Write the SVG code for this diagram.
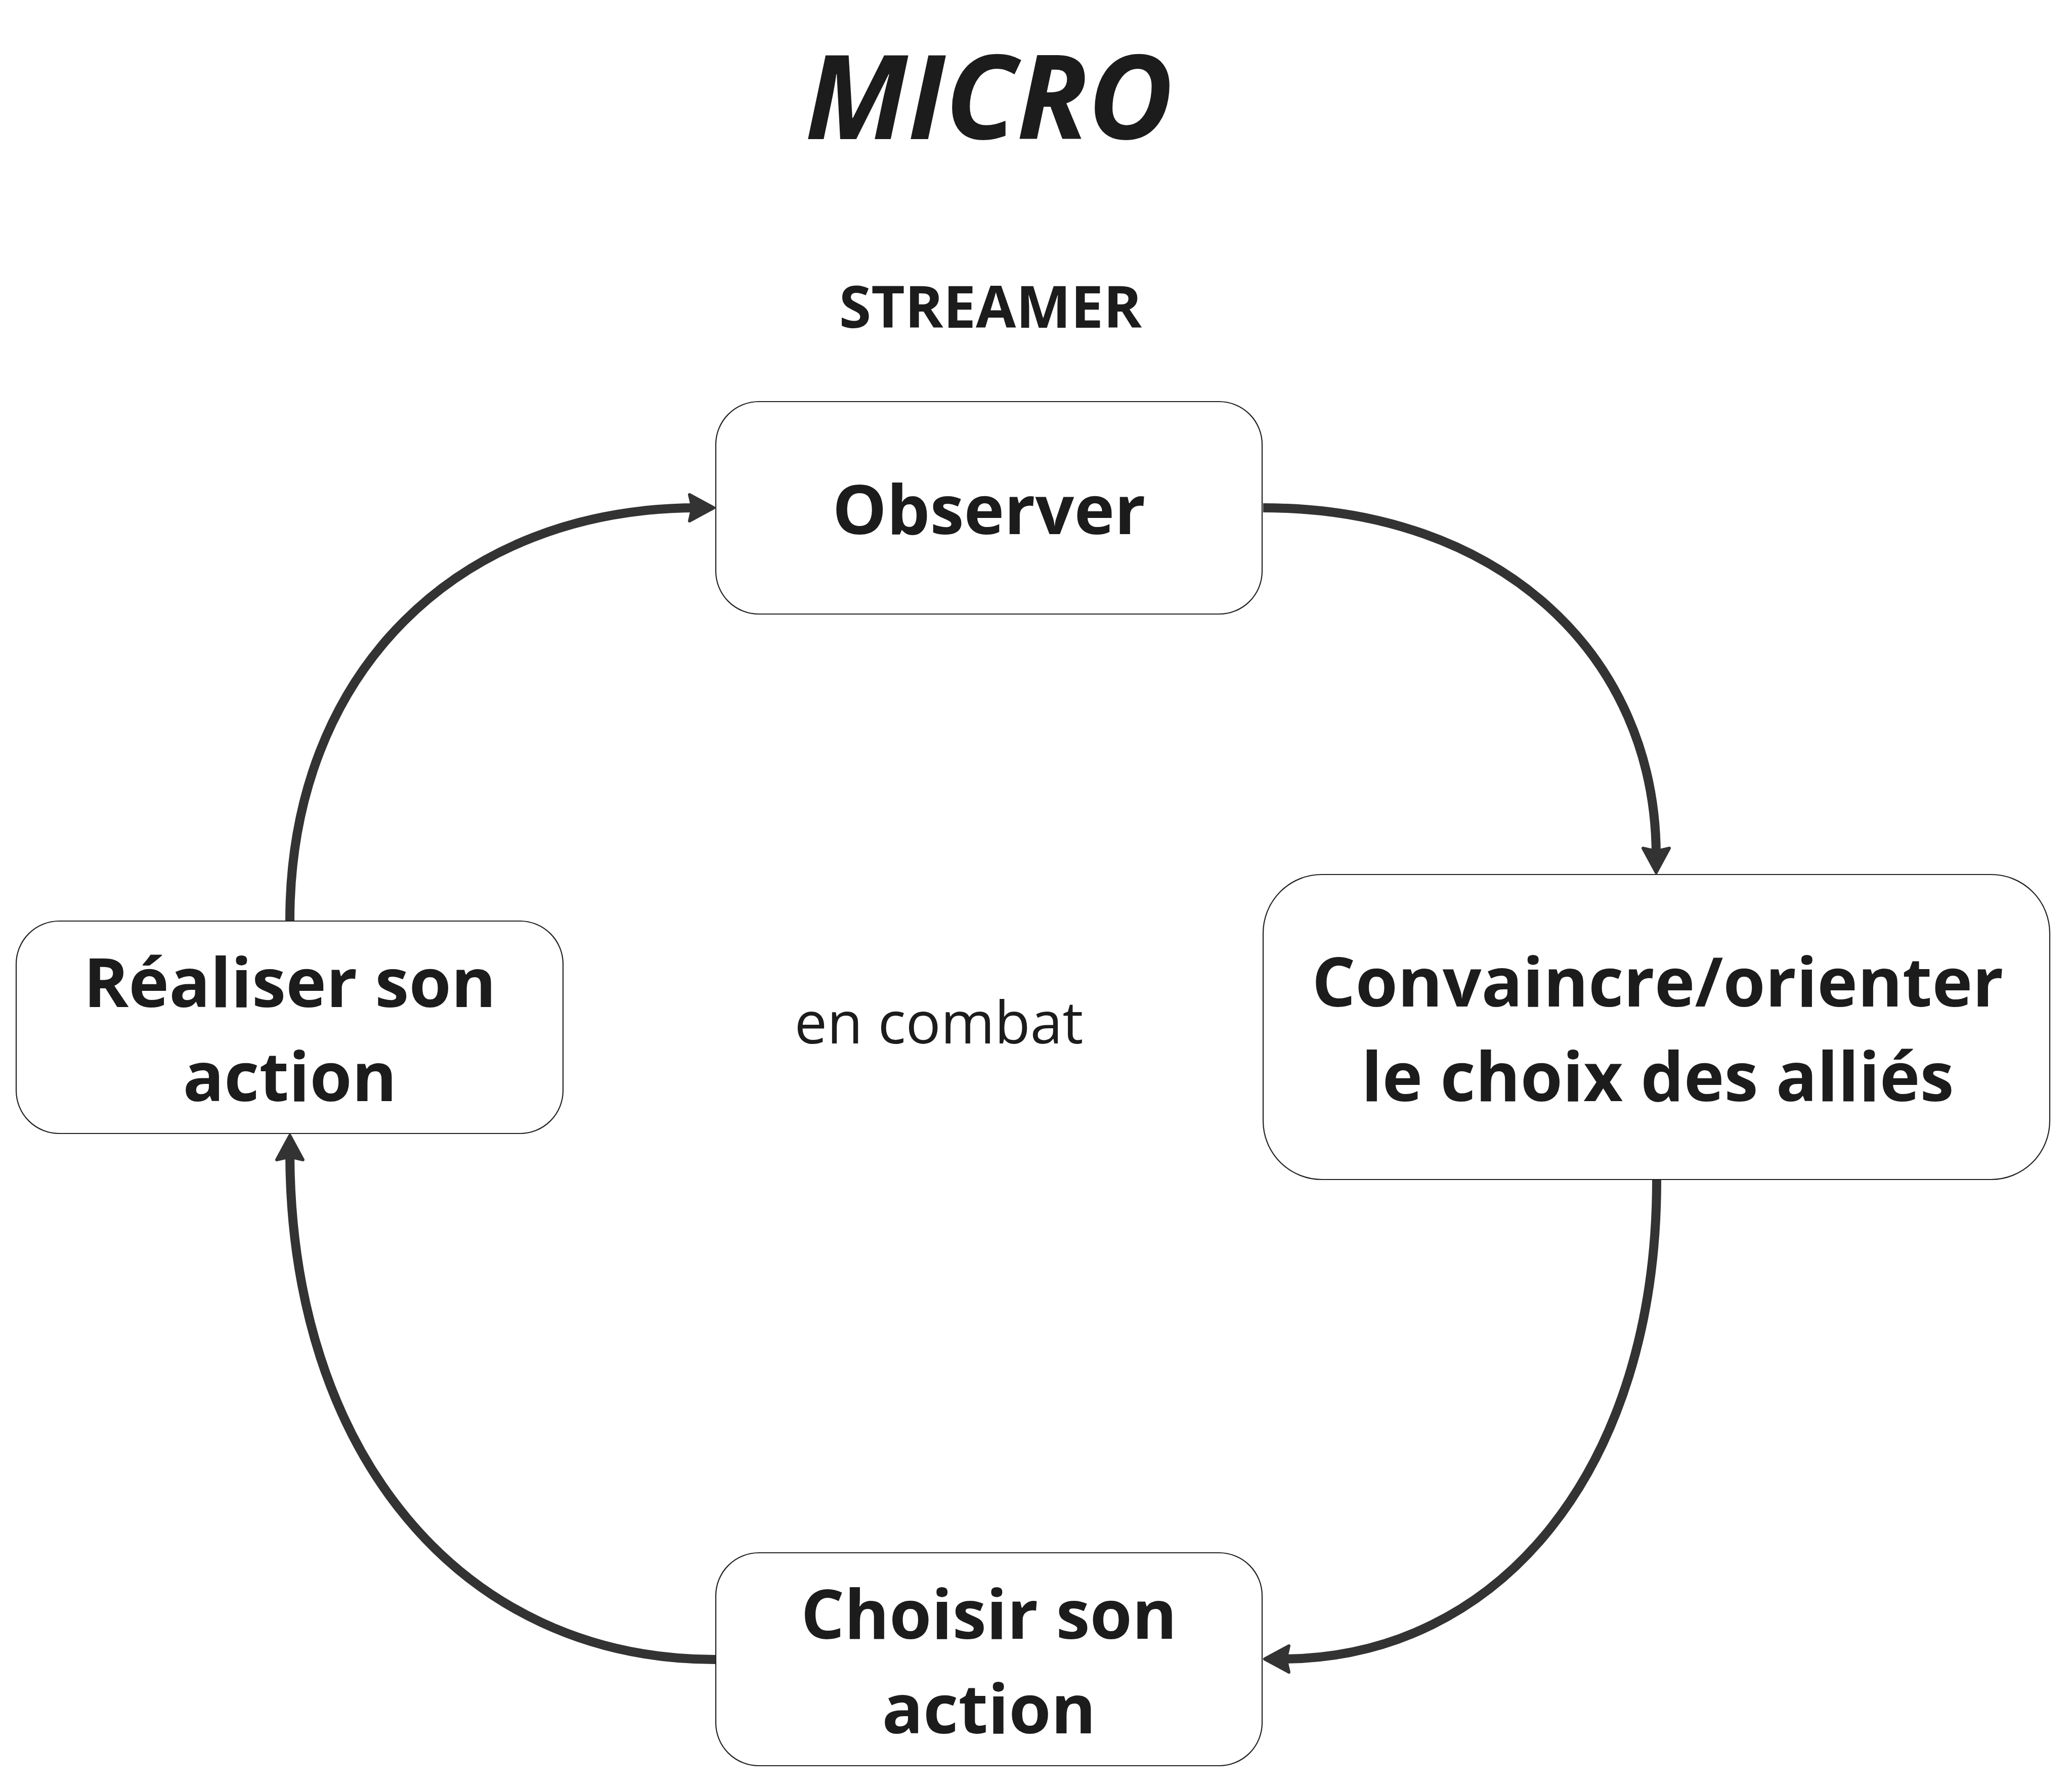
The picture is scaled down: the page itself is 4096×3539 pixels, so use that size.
<svg xmlns="http://www.w3.org/2000/svg" width="4096" height="3539" viewBox="0 0 4096 3539">
<style>
.t{font-family:"Open Sans","Noto Sans","Liberation Sans",sans-serif;fill:#1c1c1c;text-anchor:middle}
.b{font-weight:700}
.n{font-size:135px;font-weight:700}
.box{fill:#ffffff;stroke:#222222;stroke-width:2.2}
.c{fill:none;stroke:#333333;stroke-width:18;marker-end:url(#arr)}
</style>
<defs>
<marker id="arr" markerUnits="userSpaceOnUse" orient="auto" overflow="visible" markerWidth="1" markerHeight="1" refX="0" refY="0">
<path d="M32,0 L-16,-26 L-10,0 L-16,26 Z" fill="#333333" stroke="#333333" stroke-width="6" stroke-linejoin="round"/>
</marker>
</defs>
<rect width="4096" height="3539" fill="#ffffff"/>
<text id="title" class="t b" x="1955" y="275" font-size="231" font-style="italic">MICRO</text>
<text id="streamer" class="t b" x="1958" y="648" font-size="115">STREAMER</text>
<text id="encombat" class="t" x="1856" y="2063" font-size="115">en combat</text>
<g id="connectors">
<path class="c" d="M2497,1004 C2963,1004 3274,1294 3274,1693"/>
<path class="c" d="M3275,2333 C3275,2901 2967,3280 2532,3280"/>
<path class="c" d="M1414,3281 C909,3281 573,2869 573,2277"/>
<path class="c" d="M573,1820 C573,1330 906,1004 1379,1004"/>
</g>
<g id="observer">
<rect class="box" x="1415" y="794" width="1080" height="420" rx="85"/>
<text class="t n" x="1955" y="1056">Observer</text>
</g>
<g id="convaincre">
<rect class="box" x="2497" y="1729" width="1555" height="603" rx="116"/>
<text class="t n" x="3277" y="1990">Convaincre/orienter</text>
<text class="t n" x="3277" y="2177">le choix des alliés</text>
</g>
<g id="choisir">
<rect class="box" x="1415" y="3070" width="1080" height="421" rx="85"/>
<text class="t n" x="1955" y="3240">Choisir son</text>
<text class="t n" x="1955" y="3427">action</text>
</g>
<g id="realiser">
<rect class="box" x="32" y="1821" width="1081" height="420" rx="85"/>
<text class="t n" x="573" y="1991">Réaliser son</text>
<text class="t n" x="573" y="2177">action</text>
</g>
</svg>
